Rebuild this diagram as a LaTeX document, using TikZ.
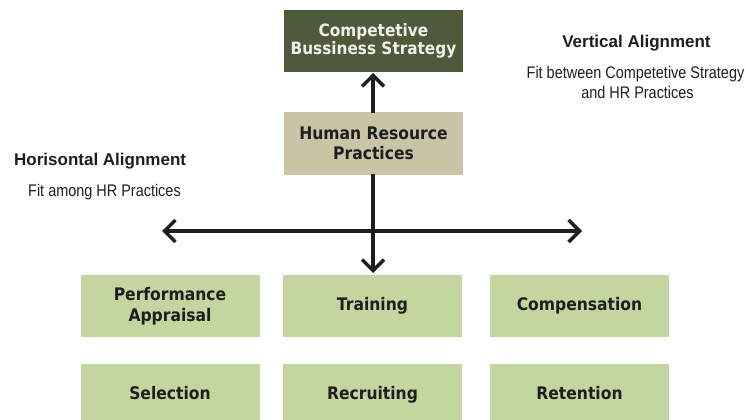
\documentclass[tikz,border=0pt]{standalone}
\usepackage{fontspec}
\setmainfont{Liberation Sans}
\newfontfamily\boxfont[FakeStretch=0.9]{DejaVu Sans}
\newfontfamily\narrowfont[FakeStretch=0.86]{Liberation Sans}
\usetikzlibrary{arrows.meta}
\definecolor{darkolive}{HTML}{4E5A3A}
\definecolor{tanbox}{HTML}{C8C4A5}
\definecolor{greenbox}{HTML}{C4D6A0}
\definecolor{inkcol}{HTML}{1E1E1E}
\definecolor{toptext}{HTML}{F2F2EA}
\tikzset{
  box/.style={rectangle, inner sep=0pt, minimum width=179pt, minimum height=62pt,
    align=center, text=inkcol, font={\boxfont\bfseries\fontsize{17.3}{21}\selectfont}},
  oneline/.style={text height=12.5pt, text depth=4pt},
  topbox/.style={box, fill=darkolive, text=toptext, font={\boxfont\bfseries\fontsize{17}{17.5}\selectfont}},
  hrbox/.style={box, fill=tanbox, font={\boxfont\bfseries\fontsize{17.3}{20}\selectfont}},
  practice/.style={box, fill=greenbox},
  connector/.style={draw=inkcol, line width=3.4pt, -{Straight Barb[length=11pt,width=22pt]}},
  biconnector/.style={draw=inkcol, line width=3.4pt, {Straight Barb[length=11pt,width=22pt]}-{Straight Barb[length=11pt,width=22pt]}},
  headtext/.style={inner sep=0pt, text=inkcol, font={\bfseries\fontsize{17}{21}\selectfont}},
  subtext/.style={inner sep=0pt, text=inkcol, align=center, font={\narrowfont\fontsize{16.8}{21}\selectfont}}
}
\begin{document}
\begin{tikzpicture}[x=1pt,y=-1pt]
\useasboundingbox (0,0) rectangle (745,420);
\clip (0,0) rectangle (745,420);
\fill[white] (0,0) rectangle (745,420);

\node[topbox] (strategy) at (373.5,41) {Competetive\\Bussiness Strategy};
\node[hrbox] (hrp) at (373.5,143.5) {Human Resource\\Practices};

\node[practice] (perf) at (170,306) {Performance\\Appraisal};
\node[practice, oneline] (train) at (372.5,306) {Training};
\node[practice, oneline] (comp) at (579.5,306) {Compensation};
\node[practice, oneline] (sel) at (170,395) {Selection};
\node[practice, oneline] (recr) at (372.5,395) {Recruiting};
\node[practice, oneline] (ret) at (579.5,395) {Retention};

\coordinate (hleft) at (162,231);
\coordinate (hright) at (582,231);
\coordinate (vtop) at (373,113);
\coordinate (vtip) at (373,73);
\coordinate (vbot) at (373,174);
\coordinate (vdown) at (373,273);

\draw[connector] (vtop) -- (vtip);
\draw[connector] (vbot) -- (vdown);
\draw[biconnector] (hleft) -- (hright);

\node[headtext, anchor=base west] (hzt) at (14,165) {Horisontal Alignment};
\node[subtext, anchor=base west] (hzs) at (28,196) {Fit among HR Practices};

\node[headtext, anchor=base] (vt) at (636.5,48) {Vertical Alignment};
\node[subtext, anchor=base] (vs1) at (635.5,78) {Fit between Competetive Strategy};
\node[subtext, anchor=base] (vs2) at (637.5,99) {and HR Practices};
\end{tikzpicture}
\end{document}
